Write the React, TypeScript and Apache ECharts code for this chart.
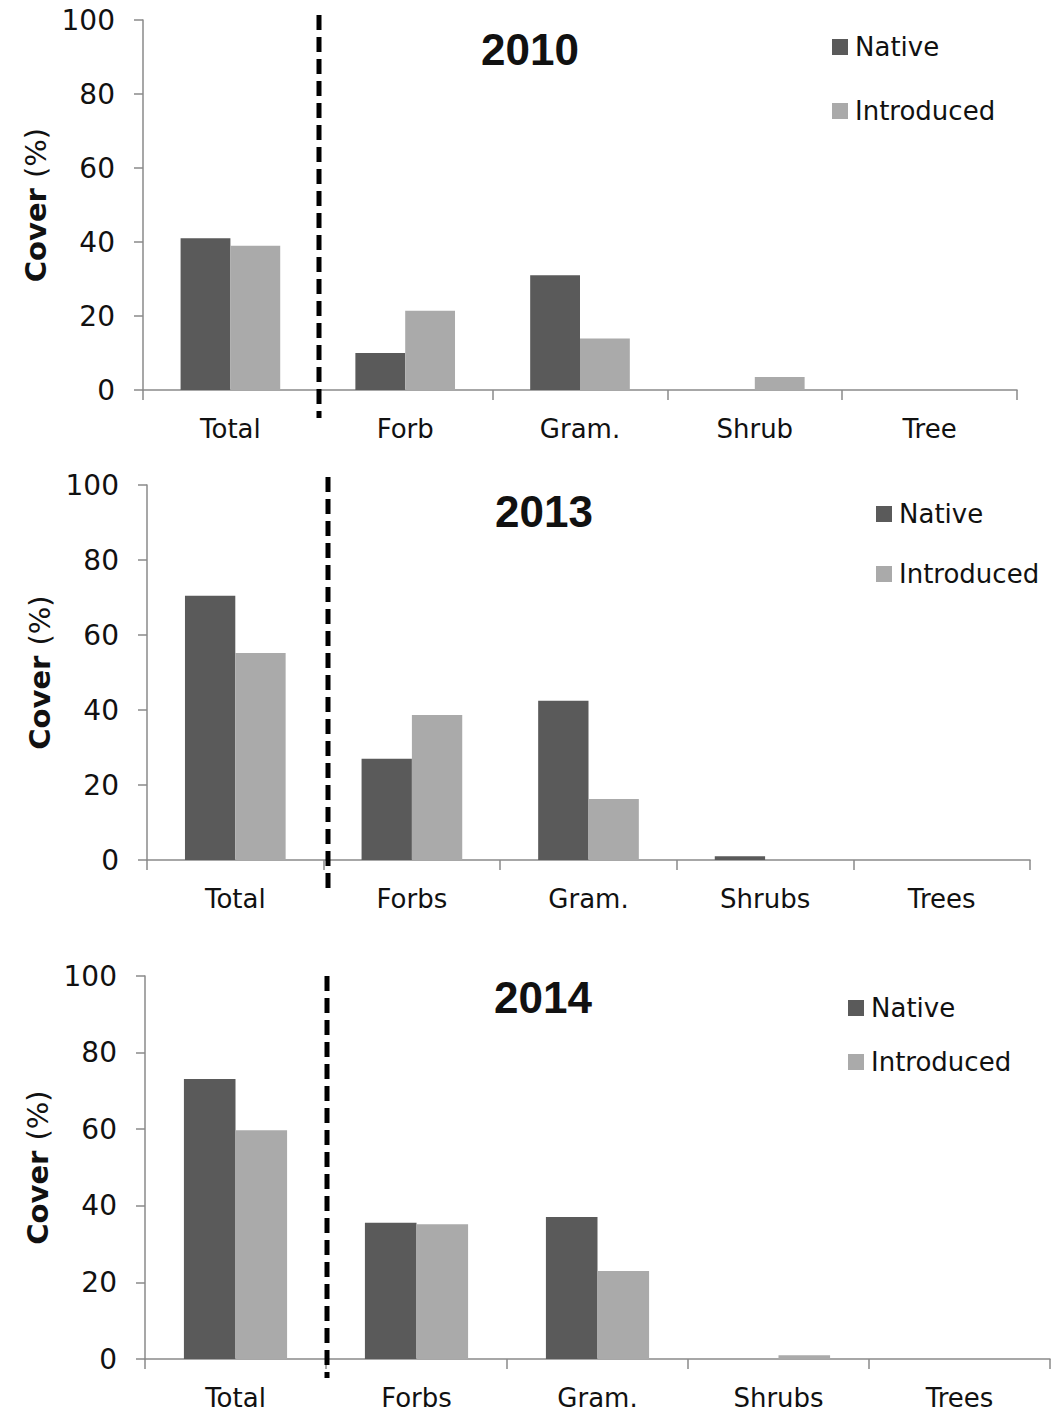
import React, { useEffect, useRef } from "react";
import * as echarts from "echarts";

// ---- data ----
const years = ["2010", "2013", "2014"];
const categories2010 = ["Total", "Forb", "Gram.", "Shrub", "Tree"];
const categories2013 = ["Total", "Forbs", "Gram.", "Shrubs", "Trees"];
const categories2014 = ["Total", "Forbs", "Gram.", "Shrubs", "Trees"];
const native2010 = [41, 10, 31, 0, 0];
const introduced2010 = [39, 21.4, 13.9, 3.5, 0];
const native2013 = [70.5, 27, 42.5, 1, 0];
const introduced2013 = [55.2, 38.7, 16.3, 0, 0];
const native2014 = [73.1, 35.6, 37.1, 0, 0];
const introduced2014 = [59.7, 35.2, 23, 1, 0];
const yTicks = [0, 20, 40, 60, 80, 100];

const panels = [
  { year: years[0], cats: categories2010, nat: native2010, intro: introduced2010 },
  { year: years[1], cats: categories2013, nat: native2013, intro: introduced2013 },
  { year: years[2], cats: categories2014, nat: native2014, intro: introduced2014 },
];

// ---- layout (pixels) ----
const layout = [
  { left: 143, top: 20, width: 874, height: 370, titleX: 525, titleTop: 22, legLeft: 832, legTop: 34, legGap: 38, dashX: 319, dashY1: 15, dashY2: 418 },
  { left: 147, top: 485, width: 883, height: 375, titleX: 539, titleTop: 484, legLeft: 876, legTop: 501, legGap: 34, dashX: 328, dashY1: 477, dashY2: 888 },
  { left: 145, top: 976, width: 905, height: 383, titleX: 538, titleTop: 970, legLeft: 848, legTop: 995, legGap: 28, dashX: 327, dashY1: 976, dashY2: 1378 },
];

const NATIVE_COLOR = "#5a5a5a";
const INTRO_COLOR = "#aaaaaa";
const AXIS_COLOR = "#8a8a8a";
const FONT = "DejaVu Sans";

export default function App() {
  const ref = useRef<HTMLDivElement>(null);
  useEffect(() => {
    document.body.style.margin = "0";
    if (!ref.current) return;
    const chart = echarts.init(ref.current, undefined, { renderer: "svg" });

    const grids: any[] = [];
    const xAxes: any[] = [];
    const yAxes: any[] = [];
    const series: any[] = [];
    const titles: any[] = [];
    const legends: any[] = [];
    const graphics: any[] = [];

    panels.forEach((p, i) => {
      const L = layout[i];
      grids.push({ left: L.left, top: L.top, width: L.width, height: L.height, containLabel: false });
      xAxes.push({
        type: "category",
        gridIndex: i,
        data: p.cats,
        boundaryGap: true,
        axisLine: { show: true, lineStyle: { color: AXIS_COLOR, width: 1.5 } },
        axisTick: { show: true, alignWithLabel: false, length: 10, lineStyle: { color: AXIS_COLOR, width: 1.5 } },
        axisLabel: { color: "#111", fontFamily: FONT, fontSize: 26, margin: 26 },
        splitLine: { show: false },
      });
      yAxes.push({
        type: "value",
        gridIndex: i,
        min: yTicks[0],
        max: yTicks[yTicks.length - 1],
        interval: 20,
        name: "{b|Cover }{r|(%)}",
        nameLocation: "middle",
        nameGap: 88,
        nameTextStyle: {
          rich: {
            b: { fontFamily: FONT, fontWeight: "bold", fontSize: 29, color: "#111" },
            r: { fontFamily: FONT, fontSize: 29, color: "#111" },
          },
        },
        axisLine: { show: true, lineStyle: { color: AXIS_COLOR, width: 1.5 } },
        axisTick: { show: true, length: 9, lineStyle: { color: AXIS_COLOR, width: 1.5 } },
        axisLabel: { color: "#111", fontFamily: FONT, fontSize: 28, margin: 28 },
        splitLine: { show: false },
      });
      series.push({
        type: "bar",
        name: "Native",
        xAxisIndex: i,
        yAxisIndex: i,
        data: p.nat,
        barGap: "0%",
        barCategoryGap: "43%",
        itemStyle: { color: NATIVE_COLOR },
      });
      series.push({
        type: "bar",
        name: "Introduced",
        xAxisIndex: i,
        yAxisIndex: i,
        data: p.intro,
        barGap: "0%",
        barCategoryGap: "43%",
        itemStyle: { color: INTRO_COLOR },
      });
      titles.push({
        text: p.year,
        left: L.titleX,
        top: L.titleTop,
        textAlign: "center",
        textStyle: { fontFamily: "Liberation Sans", fontWeight: "bold", fontSize: 44, color: "#111" },
      });
      legends.push({
        data: ["Native", "Introduced"],
        orient: "vertical",
        left: L.legLeft,
        top: L.legTop,
        itemGap: L.legGap,
        itemWidth: 16,
        itemHeight: 16,
        icon: "rect",
        padding: 0,
        textStyle: { fontFamily: FONT, fontSize: 26, color: "#111", padding: [0, 0, 0, 2] },
      });
      graphics.push({
        type: "line",
        shape: { x1: L.dashX, y1: L.dashY1, x2: L.dashX, y2: L.dashY2 },
        style: { stroke: "#000", lineWidth: 5, lineDash: [15, 7] },
        z: 100,
      });
    });

    chart.setOption({
      animation: false,
      backgroundColor: "#fff",
      title: titles,
      legend: legends,
      grid: grids,
      xAxis: xAxes,
      yAxis: yAxes,
      series,
      graphic: graphics,
    });
    return () => chart.dispose();
  }, []);
  return <div ref={ref} style={{ width: 1051, height: 1414 }} />;
}
